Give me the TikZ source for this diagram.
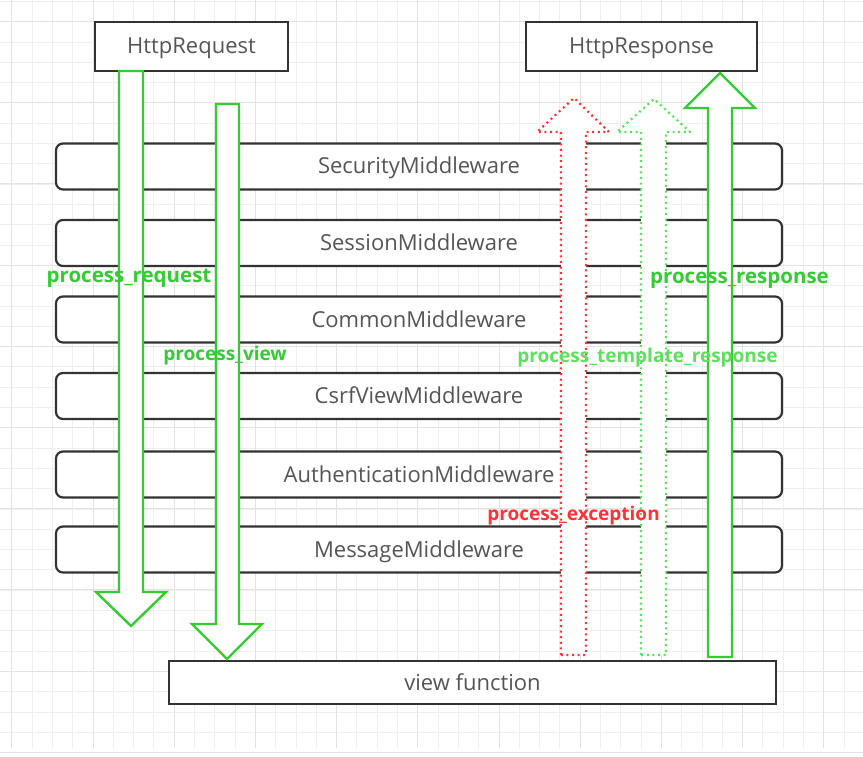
\documentclass[tikz,border=0pt]{standalone}
\usepackage{fontspec}
\setmainfont{Open Sans}
\definecolor{gridminor}{HTML}{EFEFEF}
\definecolor{gridmajor}{HTML}{E3E3E3}
\definecolor{boxline}{HTML}{333333}
\definecolor{txtgray}{HTML}{555555}
\definecolor{okgreen}{HTML}{33CC33}
\definecolor{litegreen}{HTML}{5EE05E}
\definecolor{errred}{HTML}{FF3333}
\begin{document}
\begin{tikzpicture}[x=1pt,y=-1pt,
  plainbox/.style={draw=boxline, line width=2.2pt, fill=white, inner sep=0pt, text=txtgray, font=\fontsize{22}{24}\selectfont, text height=16pt, text depth=1pt},
  mwbox/.style={plainbox, rounded corners=7pt, minimum width=726pt, minimum height=46pt},
  solidarrow/.style={draw=okgreen, line width=2.4pt, fill=white, line join=miter},
  dotarrow/.style={line width=2.2pt, fill=white, dash pattern=on 2pt off 3.6pt, line join=round},
  lbl/.style={font=\bfseries\fontsize{20.5}{22}\selectfont, inner sep=0pt, text height=15pt, text depth=2pt},
  lblsmall/.style={font=\bfseries\fontsize{19}{21}\selectfont, inner sep=0pt, text height=14pt, text depth=2pt}]
\useasboundingbox (0,0) rectangle (863,757);
\fill[white] (0,0) rectangle (863,757);
% grid
\foreach \i in {0,...,42} {
  \draw[gridminor, line width=0.8pt] (11.7+20.3*\i,0) -- (11.7+20.3*\i,748);
}
\foreach \i in {0,...,36} {
  \draw[gridminor, line width=0.8pt] (0,1.4+20.3*\i) -- (863,1.4+20.3*\i);
}
\foreach \i in {0,...,10} {
  \draw[gridmajor, line width=0.8pt] (11.7+81.2*\i,0) -- (11.7+81.2*\i,748);
}
\foreach \i in {0,...,9} {
  \draw[gridmajor, line width=0.8pt] (0,21.4+81.2*\i) -- (863,21.4+81.2*\i);
}
% boxes
\node[plainbox, minimum width=193pt, minimum height=49pt] (req) at (191.5,46.5) {HttpRequest};
\node[plainbox, minimum width=231pt, minimum height=49pt] (resp) at (641.5,46.5) {HttpResponse};
\node[mwbox] (sec) at (419,166.5) {SecurityMiddleware};
\node[mwbox] (ses) at (419,243) {SessionMiddleware};
\node[mwbox] (com) at (419,319.5) {CommonMiddleware};
\node[mwbox] (csrf) at (419,396) {CsrfViewMiddleware};
\node[mwbox] (auth) at (419,474.5) {AuthenticationMiddleware};
\node[mwbox] (msg) at (419,549.5) {MessageMiddleware};
\node[plainbox, minimum width=607pt, minimum height=43pt] (view) at (472.5,682.5) {view function};
% down arrows
\draw[solidarrow] (119,71) -- (119,592) -- (96,592) -- (131,626) -- (166,592) -- (143,592) -- (143,71) -- cycle;
\draw[solidarrow] (216,104) -- (216,624) -- (192,624) -- (227,659) -- (262,624) -- (239,624) -- (239,104) -- cycle;
% up arrows
\draw[dotarrow, draw=errred] (561,655) -- (561,132) -- (537,132) -- (574,98) -- (609,132) -- (586,132) -- (586,655) -- cycle;
\draw[dotarrow, draw=litegreen] (641,655) -- (641,132) -- (617,132) -- (654,99) -- (690,132) -- (666,132) -- (666,655) -- cycle;
\draw[solidarrow] (708,657) -- (708,108) -- (685,108) -- (720,73) -- (755,108) -- (732,108) -- (732,657) -- cycle;
% labels
\node[lbl, text=okgreen] (lreq) at (129,276) {process\_request};
\node[lblsmall, text=okgreen] (lview) at (225,354) {process\_view};
\node[lbl, text=okgreen] (lresp) at (739.5,277) {process\_response};
\node[lblsmall, text=litegreen] (ltpl) at (647.5,356) {process\_template\_response};
\node[lblsmall, text=errred] (lexc) at (573.5,514) {process\_exception};
\end{tikzpicture}
\end{document}
